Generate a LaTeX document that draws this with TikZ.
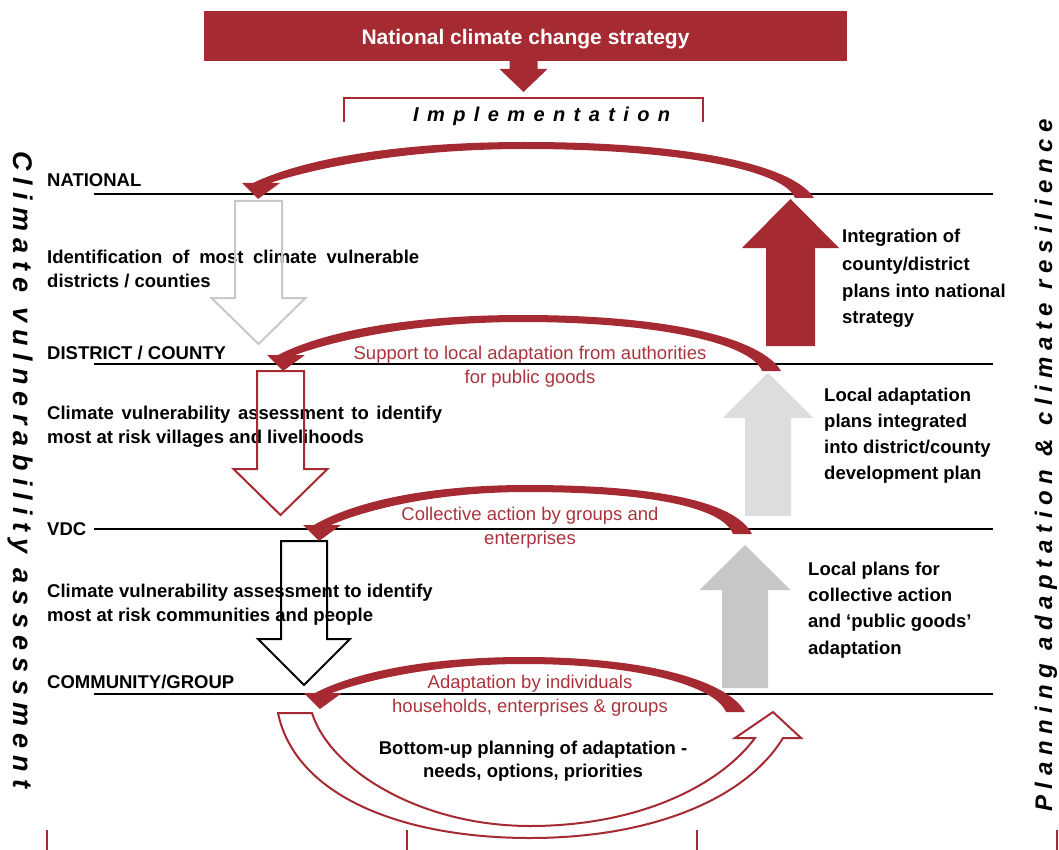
\documentclass[tikz,border=0pt]{standalone}
\usepackage{fontspec}
\setmainfont{Liberation Sans}
\newfontfamily\implfont[LetterSpace=42]{Liberation Sans}
\newfontfamily\leftvfont[LetterSpace=27]{Liberation Sans}
\newfontfamily\rightvfont[LetterSpace=27.7]{Liberation Sans}
\definecolor{dkred}{RGB}{166,42,49}
\definecolor{txtred}{RGB}{170,52,60}
\definecolor{lgray}{RGB}{200,200,200}
\definecolor{fgrayA}{RGB}{220,221,223}
\definecolor{fgrayB}{RGB}{198,199,201}
\newcommand\bodyb{\fontsize{18.5}{22}\selectfont\bfseries}
\newcommand\bodyr{\fontsize{18.5}{22}\selectfont}
\tikzset{
  blk/.style={font=\bodyb, inner sep=0pt, anchor=base west},
  rtxt/.style={font=\bodyr, text=txtred, inner sep=0pt, anchor=base},
  ctxt/.style={font=\bodyb, inner sep=0pt, anchor=base},
  levelline/.style={line width=2.4pt, black},
  tick/.style={line width=2pt, dkred},
}
% #1 style, #2 cx, #3 tail y, #4 head base y, #5 tip y, #6 half shaft, #7 half head
\newcommand\blkarrow[7]{%
  \path[#1] ({#2-#6},#3) -- ({#2+#6},#3) -- ({#2+#6},#4) -- ({#2+#7},#4) -- (#2,#5)
    -- ({#2-#7},#4) -- ({#2-#6},#4) -- cycle;}
% #1 tip x, #2 tip y, #3 tail outer x, #4 tail y, #5 peak y
\newcommand\bandarrow[5]{%
  \pgfmathsetmacro\bW{#3-#1}%
  \pgfmathsetmacro\bH{#2-#5}%
  \pgfmathsetmacro\bM{#1+0.48*\bW}%
  \fill[dkred] (#3,#4) .. controls ({#3-0.04*\bW},{#4-0.6*\bH}) and ({#3-0.23*\bW},#5) .. (\bM,#5)
    .. controls ({#1+0.25*\bW},#5) and ({#1+0.08*\bW},{#2-0.7*\bH}) .. ({#1-5},{#2-16})
    -- ({#1-16},{#2-16}) -- (#1,#2) -- ({#1+22},{#2-16}) -- ({#1+12},{#2-16})
    .. controls ({#1+0.09*\bW},{#2-0.5*\bH}) and ({#1+0.25*\bW},{#5+7}) .. (\bM,{#5+7})
    .. controls ({#3-0.25*\bW},{#5+7}) and ({#3-30},{#4-0.5*\bH}) .. ({#3-19},#4) -- cycle;}

\begin{document}
\begin{tikzpicture}[x=1pt,y=-1pt,line join=miter]
\useasboundingbox (0,0) rectangle (1059,850);

% top banner
\fill[dkred] (204,11) rectangle (847,61);
\node[ctxt, text=white, font=\fontsize{21}{24}\selectfont\bfseries] (banner) at (525.5,44.5) {National climate change strategy};
\blkarrow{fill=dkred}{523.5}{60}{69}{92}{14}{24}
\draw[dkred, line width=2pt] (344,122) -- (344,98) -- (703,98) -- (703,122);
\node[inner sep=0pt, anchor=base west, font=\implfont\fontsize{20}{22}\selectfont\bfseries\itshape] (impl) at (413,122) {Implementation};

% level lines
\draw[levelline] (94,194) -- (993,194);
\draw[levelline] (94,364) -- (993,364);
\draw[levelline] (94,529) -- (993,529);
\draw[levelline] (94,694) -- (993,694);

% level labels
\node[blk] (lvA) at (47,187) {NATIONAL};
\node[blk] (lvB) at (47,359) {DISTRICT / COUNTY};
\node[blk] (lvC) at (47,535) {VDC};
\node[blk] (lvD) at (47,688) {COMMUNITY/GROUP};

% left texts
\node[blk] (la1) at (47,263) {\makebox[372pt][s]{Identification of most climate vulnerable}};
\node[blk] (la2) at (47,287) {districts / counties};
\node[blk] (lb1) at (47,419) {\makebox[395pt][s]{Climate vulnerability assessment to identify}};
\node[blk] (lb2) at (47,443) {most at risk villages and livelihoods};
\node[blk] (lc1) at (47,597) {Climate vulnerability assessment to identify};
\node[blk] (lc2) at (47,621) {most at risk communities and people};

% down arrows (outlines)
\blkarrow{draw=lgray, line width=2pt}{258.5}{201}{298}{344}{23.5}{47}
\blkarrow{draw=dkred, line width=2pt}{280.5}{371}{469}{515}{23.5}{47}
\blkarrow{draw=black, line width=2pt}{304}{541}{639}{685}{23}{46}

% up arrows (filled)
\blkarrow{fill=dkred}{790.5}{346}{248}{199}{24.5}{48.5}
\blkarrow{fill=fgrayA}{768}{516}{418}{373}{23}{45.5}
\blkarrow{fill=fgrayB}{745}{688}{590}{545}{23}{45.5}

% right texts
\node[blk] (ra1) at (842,243) {Integration of};
\node[blk] (ra2) at (842,270) {county/district};
\node[blk] (ra3) at (842,297) {plans into national};
\node[blk] (ra4) at (842,323) {strategy};
\node[blk] (rb1) at (824,401) {Local adaptation};
\node[blk] (rb2) at (824,427) {plans integrated};
\node[blk] (rb3) at (824,453) {into district/county};
\node[blk] (rb4) at (824,479) {development plan};
\node[blk] (rc1) at (808,575) {Local plans for};
\node[blk] (rc2) at (808,601) {collective action};
\node[blk] (rc3) at (808,627) {and `public goods'};
\node[blk] (rc4) at (808,654) {adaptation};

% bottom hollow curved arrow
\draw[dkred, line width=2pt, fill=white] (278,713) -- (312,713)
  .. controls (330,770) and (420,826) .. (530,826)
  .. controls (640,826) and (720,785) .. (755,738)
  -- (735,738) -- (773,712) -- (801,738) -- (783,738)
  .. controls (745,800) and (650,838) .. (530,838)
  .. controls (400,838) and (295,795) .. (278,713) -- cycle;

% curved red arrows
\bandarrow{258}{199}{814}{198}{142}
\bandarrow{283}{371}{781}{371}{315}
\bandarrow{319}{541}{752}{534}{485}
\bandarrow{320}{709}{745}{712}{657}

% red texts
\node[rtxt] (sa1) at (530,359) {Support to local adaptation from authorities};
\node[rtxt] (sa2) at (530,383) {for public goods};
\node[rtxt] (sb1) at (530,520) {Collective action by groups and};
\node[rtxt] (sb2) at (530,544) {enterprises};
\node[rtxt] (sc1) at (530,688) {Adaptation by individuals};
\node[rtxt] (sc2) at (530,712) {households, enterprises \& groups};

% bottom-up text
\node[ctxt] (bu1) at (533,754) {Bottom-up planning of adaptation -};
\node[ctxt] (bu2) at (533,777) {needs, options, priorities};

% vertical side titles
\node[inner sep=0pt, rotate=-90, anchor=base west, font=\leftvfont\fontsize{27}{27}\selectfont\bfseries\itshape] (vleft) at (13,151) {Climate vulnerability assessment};
\node[inner sep=0pt, rotate=90, anchor=base west, font=\rightvfont\fontsize{24}{24}\selectfont\bfseries\itshape] (vright) at (1052,812) {Planning adaptation \& climate resilience};

% bottom ticks
\draw[tick] (47,830) -- (47,850);
\draw[tick] (407,830) -- (407,850);
\draw[tick] (697,830) -- (697,850);
\draw[tick] (1057,830) -- (1057,850);
\end{tikzpicture}
\end{document}
